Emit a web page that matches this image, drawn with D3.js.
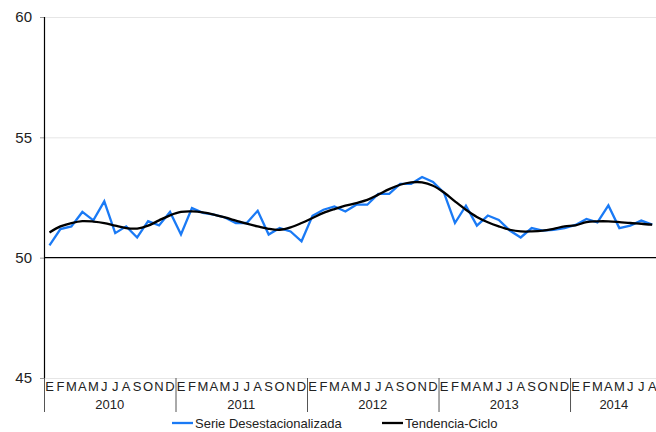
<!DOCTYPE html>
<html>
<head>
<meta charset="utf-8">
<script src="https://cdn.jsdelivr.net/npm/d3@7"></script>
<style>
  body { margin: 0; background: #fff; }
  svg { font-family: "Liberation Sans", Arial, sans-serif; }
</style>
</head>
<body>
<svg id="chart" width="656" height="432"></svg>
<script>
// month initials and years shown on the category axis
var monthLabels = ["E","F","M","A","M","J","J","A","S","O","N","D"];
var years = ["2010","2011","2012","2013","2014"];
var monthsInYear = [12, 12, 12, 12, 8];

// values
var serie = [
  50.51, 51.19, 51.30, 51.90, 51.55, 52.34, 51.02, 51.30, 50.84, 51.52, 51.34, 51.90,
  50.96, 52.06, 51.86, 51.79, 51.67, 51.44, 51.44, 51.95, 50.96, 51.23, 51.09, 50.68,
  51.74, 51.99, 52.13, 51.92, 52.20, 52.20, 52.65, 52.65, 53.07, 53.07, 53.35, 53.15,
  52.69, 51.44, 52.16, 51.33, 51.75, 51.57, 51.13, 50.84, 51.23, 51.12, 51.16, 51.23,
  51.36, 51.61, 51.47, 52.17, 51.23, 51.33, 51.54, 51.37
];
var tendencia = [
  51.05, 51.30, 51.44, 51.52, 51.50, 51.44, 51.33, 51.23, 51.21, 51.33, 51.55, 51.76,
  51.90, 51.92, 51.88, 51.79, 51.67, 51.54, 51.41, 51.30, 51.20, 51.16, 51.26, 51.44,
  51.65, 51.86, 52.02, 52.16, 52.27, 52.40, 52.62, 52.85, 53.03, 53.13, 53.13, 52.99,
  52.71, 52.34, 51.99, 51.69, 51.47, 51.30, 51.16, 51.09, 51.09, 51.12, 51.20, 51.30,
  51.34, 51.48, 51.51, 51.51, 51.48, 51.44, 51.41, 51.37
];
var yTicks = [45, 50, 55, 60];

var svg = d3.select("#chart");
var plotLeft = 44, plotRight = 657.7, plotTop = 17, plotBottom = 378;

// build category list: one entry per month
var cats = [];
years.forEach(function(yr, yi) {
  for (var m = 0; m < monthsInYear[yi]; m++) {
    cats.push({ year: yr, month: monthLabels[m], key: yr + "-" + m });
  }
});

var x = d3.scaleBand().domain(cats.map(function(d) { return d.key; }))
  .range([plotLeft, plotRight]).paddingInner(0).paddingOuter(0);
var y = d3.scaleLinear().domain([45, 60]).range([plotBottom, plotTop]);

// gridlines
svg.append("g").selectAll("line").data(yTicks.filter(function(t) { return t !== 50; }))
  .enter().append("line")
  .attr("x1", plotLeft).attr("x2", 656)
  .attr("y1", function(d) { return y(d) + 0.5; }).attr("y2", function(d) { return y(d) + 0.5; })
  .attr("stroke", "#e6e6e6").attr("stroke-width", 1);

// y axis
var yAxis = d3.axisLeft(y).tickValues(yTicks).tickSize(4).tickPadding(8);
var gy = svg.append("g").attr("transform", "translate(" + plotLeft + ",0)").call(yAxis);
gy.select(".domain").remove();
gy.selectAll(".tick line").attr("stroke", "#999");
gy.selectAll(".tick text").attr("font-size", 15).attr("fill", "#222")
  .attr("font-family", "Liberation Sans, Arial, sans-serif");
svg.append("line").attr("x1", plotLeft + 0.5).attr("x2", plotLeft + 0.5)
  .attr("y1", plotTop).attr("y2", plotBottom).attr("stroke", "#000").attr("stroke-width", 1.2);

// horizontal line at 50
svg.append("line").attr("x1", plotLeft).attr("x2", 656)
  .attr("y1", y(50)).attr("y2", y(50)).attr("stroke", "#000").attr("stroke-width", 1.2);

// month labels
svg.append("g").selectAll("text").data(cats).enter().append("text")
  .attr("x", function(d) { return x(d.key) + x.bandwidth() / 2; })
  .attr("y", 391)
  .attr("text-anchor", "middle")
  .attr("font-size", 13).attr("fill", "#222")
  .text(function(d) { return d.month; });

// year labels and separators
var idx = 0;
years.forEach(function(yr, yi) {
  var first = cats[idx].key, last = cats[idx + monthsInYear[yi] - 1].key;
  var x0 = x(first), x1 = x(last) + x.bandwidth();
  svg.append("line").attr("x1", x0 + 0.5).attr("x2", x0 + 0.5)
    .attr("y1", plotBottom).attr("y2", 412).attr("stroke", "#555").attr("stroke-width", 1);
  svg.append("text").attr("x", (x0 + x1) / 2).attr("y", 409)
    .attr("text-anchor", "middle").attr("font-size", 13).attr("fill", "#222").text(yr);
  idx += monthsInYear[yi];
});

var cx = function(d, i) { return x(cats[i].key) + x.bandwidth() / 2; };

// serie desestacionalizada
svg.append("path").datum(serie)
  .attr("fill", "none").attr("stroke", "#1a7af5").attr("stroke-width", 2.3)
  .attr("d", d3.line().x(cx).y(function(d) { return y(d); }));

// tendencia-ciclo
svg.append("path").datum(tendencia)
  .attr("fill", "none").attr("stroke", "#000").attr("stroke-width", 2.3)
  .attr("d", d3.line().x(cx).y(function(d) { return y(d); }).curve(d3.curveCatmullRom));

// legend
var leg = svg.append("g").attr("font-size", 13).attr("fill", "#222");
leg.append("line").attr("x1", 172).attr("x2", 193).attr("y1", 423).attr("y2", 423)
  .attr("stroke", "#1a7af5").attr("stroke-width", 2.3);
leg.append("text").attr("x", 195).attr("y", 428).text("Serie Desestacionalizada");
leg.append("line").attr("x1", 382).attr("x2", 403).attr("y1", 423).attr("y2", 423)
  .attr("stroke", "#000").attr("stroke-width", 2.3);
leg.append("text").attr("x", 405).attr("y", 428).text("Tendencia-Ciclo");
</script>
</body>
</html>
